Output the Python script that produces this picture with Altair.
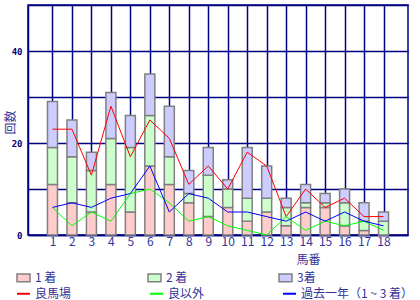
import altair as alt
import pandas as pd

nums = list(range(1, 19))
first = [11, 7, 5, 11, 5, 15, 11, 7, 4, 6, 3, 5, 2, 6, 6, 2, 1, 0]
second = [8, 10, 9, 10, 14, 11, 6, 2, 9, 4, 5, 3, 4, 1, 1, 5, 2, 3]
third = [10, 8, 4, 10, 7, 9, 11, 5, 6, 2, 11, 7, 2, 4, 2, 3, 4, 2]
good = [23, 23, 13, 28, 17, 25, 21, 11, 15, 10, 18, 15, 4, 10, 6, 8, 4, 4]
other = [6, 2, 5, 3, 9, 10, 7, 3, 4, 2, 1, 0, 4, 1, 3, 2, 3, 1]
year = [6, 7, 6, 8, 9, 15, 5, 9, 8, 5, 5, 4, 3, 5, 3, 5, 3, 2]

bar_names = ["1 着", "2 着", "3着"]
bar_colors = ["#ffcccc", "#ccffcc", "#ccccff"]
line_names = ["良馬場", "良以外", "過去一年（1 ~ 3 着）"]
line_colors = ["#ff0000", "#00ff00", "#0000ff"]

rows = []
for i, n in enumerate(nums):
    for k, vals in enumerate([first, second, third]):
        rows.append({"num": n, "kind": bar_names[k], "order": k, "value": vals[i]})
bars_df = pd.DataFrame(rows)

lrows = []
for i, n in enumerate(nums):
    for k, vals in enumerate([good, other, year]):
        lrows.append({"num": n, "series": line_names[k], "value": vals[i]})
lines_df = pd.DataFrame(lrows)

NAVY = "#000080"
LBL = "#333399"
FONT = "Noto Sans CJK JP"

xscale = alt.Scale(domain=[0, 19], nice=False, zero=False)
yscale = alt.Scale(domain=[0, 50], nice=False)

xaxis = alt.Axis(values=nums, grid=True, gridColor=NAVY, gridWidth=1.5, ticks=False,
                 domainColor=NAVY, domainWidth=1.5, labelColor=LBL, labelFont=FONT,
                 labelFontSize=12, labelPadding=1, labelOverlap=False, labelSeparation=0,
                 title="馬番", titleFont=FONT,
                 titleFontSize=12, titleFontWeight="normal", titleColor=LBL,
                 titleX=280, titleY=24, titleBaseline="middle", titleAlign="center")
yaxis = alt.Axis(values=[0, 10, 20, 30, 40, 50], grid=True, gridColor=NAVY, gridWidth=1.5,
                 ticks=False, domainColor=NAVY, domainWidth=1.5, labelColor=NAVY,
                 labelFont="DejaVu Sans Mono", labelFontSize=9, labelFontWeight="bold",
                 labelPadding=6, labelOverlap=False,
                 labelExpr="datum.value % 20 == 0 ? datum.label : ''",
                 title="回数", titleFont=FONT, titleFontSize=12, titleFontWeight="normal",
                 titleColor=LBL, titleX=-18, titleY=117, titleAngle=-90,
                 titleBaseline="middle", titleAlign="center")

bars = alt.Chart(bars_df).transform_stack(
    stack="value", groupby=["num"], as_=["y0", "y1"], sort=[alt.SortField("order")]
).mark_bar(size=10, stroke="#808080", strokeWidth=1.5).encode(
    x=alt.X("num:Q", scale=xscale, axis=xaxis),
    y=alt.Y("y0:Q", scale=yscale, axis=yaxis),
    y2="y1:Q",
    fill=alt.Fill("kind:N", scale=alt.Scale(domain=bar_names, range=bar_colors),
                  legend=alt.Legend(orient="none", legendX=-12, legendY=265, columns=3,
                                    direction="horizontal", title=None,
                                    symbolType="M-1,-0.6H1V0.6H-1Z", symbolSize=169,
                                    symbolStrokeColor="#808080", symbolStrokeWidth=1.5,
                                    symbolOpacity=1, labelOffset=4, columnPadding=88,
                                    labelFont=FONT, labelFontSize=12, labelColor=LBL,
                                    padding=0)),
)

lines = alt.Chart(lines_df).mark_line(strokeWidth=1).encode(
    x=alt.X("num:Q", scale=xscale, axis=xaxis),
    y=alt.Y("value:Q", scale=yscale, axis=yaxis),
    stroke=alt.Stroke("series:N", scale=alt.Scale(domain=line_names, range=line_colors),
                      legend=alt.Legend(orient="none", legendX=-12, legendY=281, columns=3,
                                        direction="horizontal", title=None,
                                        symbolType="stroke", symbolSize=169,
                                        symbolStrokeWidth=2, labelOffset=4,
                                        columnPadding=74, labelFont=FONT,
                                        labelFontSize=12, labelColor=LBL, padding=0)),
)

chart = alt.layer(bars, lines).resolve_legend(fill="independent", stroke="independent").properties(
    width=380, height=230,
    autosize=alt.AutoSizeParams(type="none"),
    padding={"left": 28, "top": 5, "right": 12, "bottom": 65},
    background="white",
).configure_view(stroke=NAVY, strokeWidth=1.5).configure_axis(labelOverlap=False)

chart.save("out.html", embed_options={"renderer": "svg", "actions": False})
